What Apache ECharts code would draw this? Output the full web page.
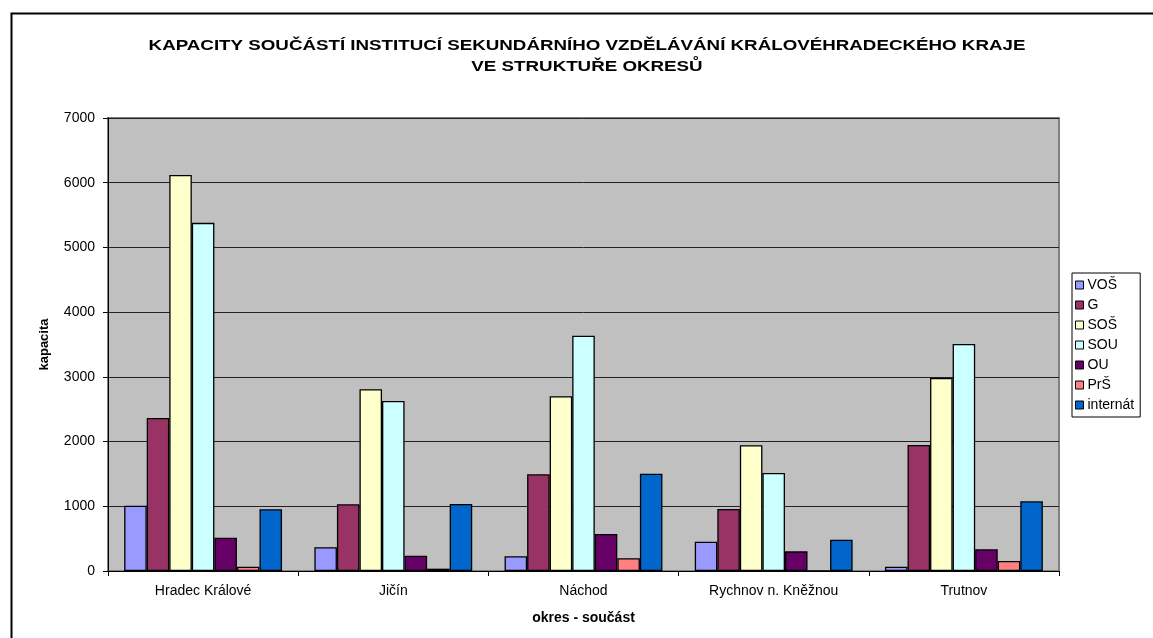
<!DOCTYPE html>
<html>
<head>
<meta charset="utf-8">
<script src="https://cdn.jsdelivr.net/npm/echarts@6/dist/echarts.min.js"></script>
<style>html,body{margin:0;padding:0;background:#fff;}#c{width:1153px;height:638px;}</style>
</head>
<body>
<div id="c"></div>
<script>
var titleText = 'KAPACITY SOUČÁSTÍ INSTITUCÍ SEKUNDÁRNÍHO VZDĚLÁVÁNÍ KRÁLOVÉHRADECKÉHO KRAJE\nVE STRUKTUŘE OKRESŮ';
var categories = ['Hradec Králové', 'Jičín', 'Náchod', 'Rychnov n. Kněžnou', 'Trutnov'];
var seriesNames = ['VOŠ', 'G', 'SOŠ', 'SOU', 'OU', 'PrŠ', 'internát'];
var VOS = [1010, 366, 227, 453, 66];
var G = [2365, 1031, 1494, 958, 1947];
var SOS = [6120, 2808, 2700, 1943, 2983];
var SOU = [5380, 2627, 3637, 1515, 3508];
var OU = [515, 237, 572, 304, 335];
var PrS = [66, 36, 196, 0, 155];
var internat = [954, 1035, 1504, 484, 1077];
var yTicks = [0, 1000, 2000, 3000, 4000, 5000, 6000, 7000];

var colors = ['#9999FF', '#993366', '#FFFFCC', '#CCFFFF', '#660066', '#FF8080', '#0066CC'];
var values = [VOS, G, SOS, SOU, OU, PrS, internat];
var font = 'Liberation Sans, Arial, sans-serif';

var chart = echarts.init(document.getElementById('c'), null, {renderer: 'canvas'});
var series = seriesNames.map(function (n, i) {
  return {
    name: n, type: 'bar', data: values[i],
    barGap: '0%', barCategoryGap: '17%',
    itemStyle: {color: colors[i], borderColor: '#000', borderWidth: 1.3},
    emphasis: {disabled: true}
  };
});
chart.setOption({
  animation: false,
  textStyle: {fontFamily: font},
  graphic: [{
    type: 'rect', left: 9, top: 11, silent: true,
    shape: {width: 1200, height: 700},
    style: {fill: 'none', stroke: '#000', lineWidth: 2}
  }, {
    type: 'text', x: 587, y: 35, scaleX: 1.25, silent: true,
    style: {
      text: titleText, fill: '#000',
      font: 'bold 15px Liberation Sans, Arial, sans-serif',
      textAlign: 'center', textVerticalAlign: 'top', lineHeight: 21
    }
  }],
  legend: {
    orient: 'vertical', left: 1072, top: 273,
    data: seriesNames,
    itemWidth: 8, itemHeight: 8, itemGap: 6,
    padding: [5, 6, 5, 3],
    borderColor: '#000', borderWidth: 1,
    icon: 'rect',
    itemStyle: {borderColor: '#000', borderWidth: 1},
    textStyle: {fontFamily: font, fontSize: 14, color: '#000', padding: [0, 0, 0, -1]},
    selectedMode: false
  },
  grid: {
    left: 108, right: 94, top: 118, bottom: 67,
    show: true, backgroundColor: '#C0C0C0', borderColor: '#808080', borderWidth: 2
  },
  xAxis: {
    type: 'category', data: categories,
    name: 'okres - součást', nameLocation: 'middle', nameGap: 40,
    nameTextStyle: {fontFamily: font, fontSize: 14, fontWeight: 'bold', color: '#000'},
    axisLine: {lineStyle: {color: '#000', width: 1}},
    axisTick: {show: true, length: 5, lineStyle: {color: '#000'}},
    axisLabel: {fontFamily: font, fontSize: 14, color: '#000', margin: 13}
  },
  yAxis: {
    type: 'value', min: yTicks[0], max: yTicks[yTicks.length - 1], interval: 1000,
    name: 'kapacita', nameLocation: 'middle', nameGap: 57, nameRotate: 90,
    nameTextStyle: {fontFamily: font, fontSize: 13, fontWeight: 'bold', color: '#000'},
    axisLine: {show: true, lineStyle: {color: '#000', width: 1}},
    axisTick: {show: true, length: 5, lineStyle: {color: '#000'}},
    axisLabel: {fontFamily: font, fontSize: 14, color: '#000', margin: 13, formatter: function (v) { return String(v); }},
    splitLine: {show: true, lineStyle: {color: '#222', width: 1}}
  },
  series: series
});
</script>
</body>
</html>
